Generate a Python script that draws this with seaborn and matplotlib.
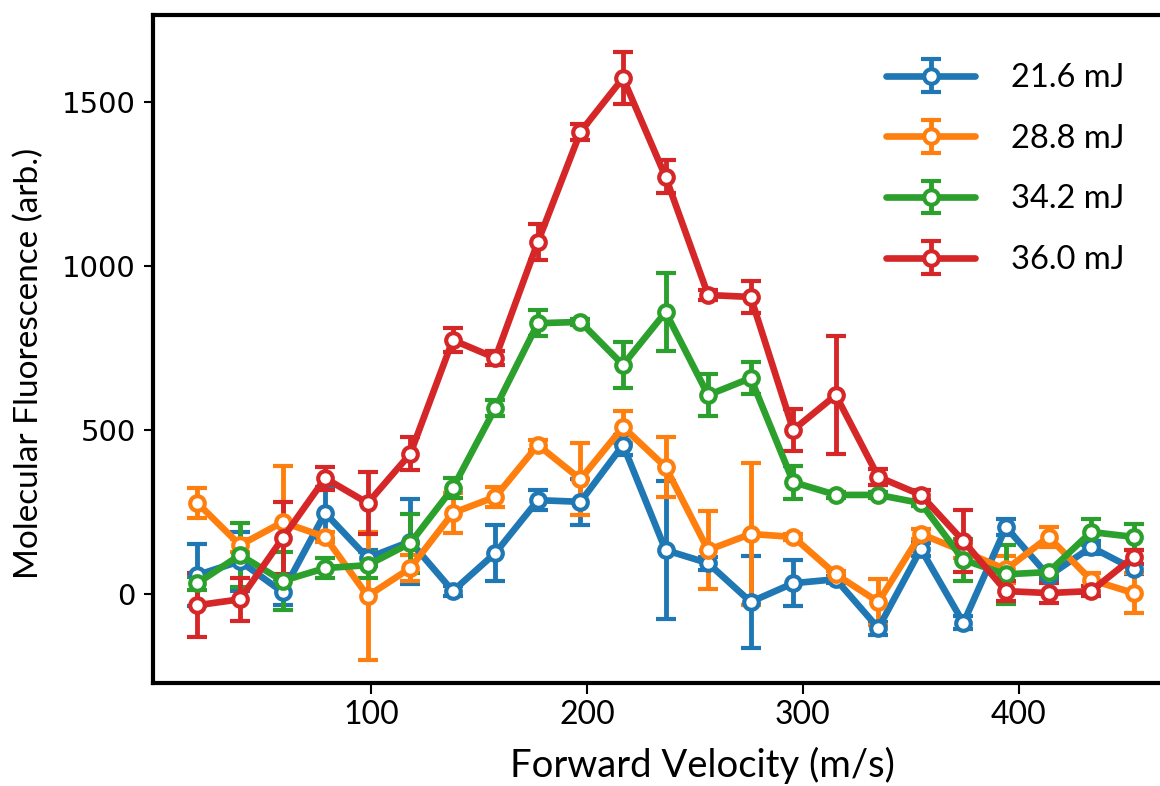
import numpy as np
import pandas as pd
import matplotlib
matplotlib.use('Agg')
import matplotlib.pyplot as plt
import seaborn as sns

# --- data ---
velocity = [19.7, 39.4, 59.1, 78.8, 98.5, 118.2, 137.9, 157.6, 177.3, 197.0, 216.7, 236.4,
            256.1, 275.8, 295.5, 315.2, 334.9, 354.6, 374.3, 394.0, 413.7, 433.4, 453.1]

energies = ['21.6 mJ', '28.8 mJ', '34.2 mJ', '36.0 mJ']

fl_216 = [58, 100, 6, 247, 110, 160, 9, 125, 286, 281, 454, 134,
          94, -24, 33, 45, -104, 137, -88, 204, 55, 143, 76]
err_216 = [95, 90, 40, 80, 25, 130, 15, 85, 30, 70, 30, 210,
           20, 140, 70, 10, 20, 20, 20, 25, 15, 20, 15]

fl_288 = [277, 149, 219, 174, -6, 79, 247, 296, 454, 350, 509, 387,
          134, 183, 174, 60, -24, 183, 130, 75, 174, 43, 3]
err_288 = [45, 20, 170, 15, 195, 40, 60, 30, 15, 110, 50, 90,
           120, 215, 10, 10, 70, 15, 20, 40, 30, 20, 60]

fl_342 = [33, 119, 40, 79, 88, 155, 323, 567, 825, 829, 698, 859,
          606, 658, 341, 302, 302, 277, 104, 60, 67, 189, 174]
err_342 = [20, 97, 89, 30, 40, 90, 30, 25, 40, 10, 70, 120,
           65, 50, 50, 10, 10, 10, 65, 90, 15, 40, 40]

fl_360 = [-34, -16, 170, 353, 277, 427, 774, 719, 1073, 1408, 1572, 1271,
          911, 905, 500, 606, 357, 302, 161, 9, 3, 9, 113]
err_360 = [97, 65, 110, 35, 95, 50, 36, 20, 55, 25, 80, 50,
           15, 50, 65, 180, 25, 15, 95, 30, 30, 15, 20]

series = [(fl_216, err_216), (fl_288, err_288), (fl_342, err_342), (fl_360, err_360)]

frames = []
for label, (vals, errs) in zip(energies, series):
    frames.append(pd.DataFrame({'velocity': velocity, 'fluor': vals, 'err': errs, 'energy': label}))
df = pd.concat(frames, ignore_index=True)

# --- style ---
sns.set_theme(style='ticks')
plt.rcParams['font.family'] = ['Lato', 'DejaVu Sans']
plt.rcParams['text.color'] = 'black'
plt.rcParams['axes.labelcolor'] = 'black'
palette = sns.color_palette('tab10', 4)

fig = plt.figure(figsize=(11.6, 7.86), dpi=100)
ax = fig.add_axes([153 / 1160, 1 - 683 / 786, (1160 - 153) / 1160, (683 - 15) / 786])

handles = []
for color, (label, grp) in zip(palette, df.groupby('energy', sort=False)):
    h = ax.errorbar(grp['velocity'], grp['fluor'], yerr=grp['err'], fmt='-o',
                    color=color, lw=4.8, ms=10.5, mfc='white', mec=color, mew=3,
                    elinewidth=3.5, capsize=7, capthick=3, label=label)
    handles.append(h)

ax.set_xlim(-0.9, 465.3)
ax.set_ylim(-271, 1764)
ax.set_xticks([100, 200, 300, 400])
ax.set_yticks([0, 500, 1000, 1500])

ax.set_xlabel('Forward Velocity (m/s)', fontsize=27.5, family=['Lato', 'DejaVu Sans'])
ax.set_ylabel('Molecular Fluorescence (arb.)', fontsize=24, family=['Lato', 'DejaVu Sans'])
ax.xaxis.set_label_coords(0.546, -0.095)
ax.yaxis.set_label_coords(-0.108, 0.478)

for lab in ax.get_yticklabels():
    lab.set_family('DejaVu Sans')
    lab.set_fontsize(21)
for lab in ax.get_xticklabels():
    lab.set_family('Lato')
    lab.set_fontsize(23)

ax.tick_params(axis='y', direction='out', length=6.5, width=1.5, pad=6, colors='black')
ax.tick_params(axis='x', direction='out', length=8, width=1.5, pad=4, colors='black')

sns.despine(ax=ax, top=False, right=True)
for side in ['left', 'bottom', 'top']:
    ax.spines[side].set_linewidth(3)
    ax.spines[side].set_color('black')

leg = ax.legend(handles=handles, labels=energies, loc='upper left',
                bbox_to_anchor=(886 / 1160, 1 - 63 / 786), bbox_transform=fig.transFigure,
                frameon=False, handlelength=2.73, handletextpad=1.1, labelspacing=0.94,
                borderpad=0, borderaxespad=0, prop={'family': 'Lato', 'size': 23.5})
for t in leg.get_texts():
    t.set_color('black')

fig.savefig('out.png', dpi=100)
